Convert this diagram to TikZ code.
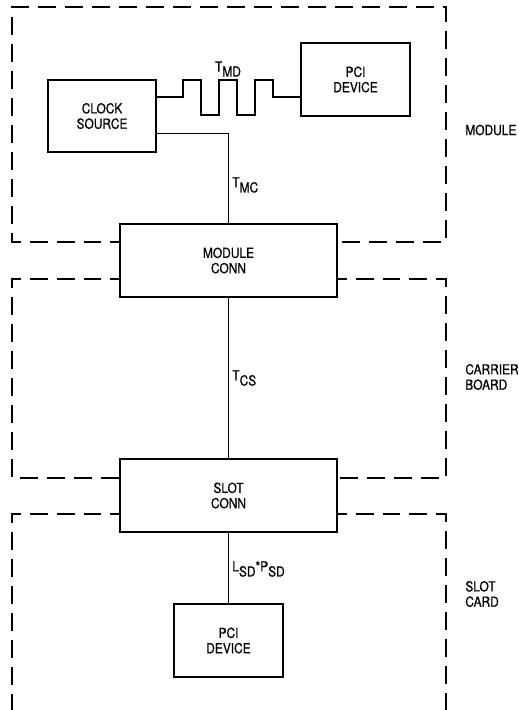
\documentclass[tikz,border=0pt]{standalone}
\usepackage{fontspec}
\setmainfont{TeX Gyre Heros}[FakeStretch=0.86, FakeBold=0.8]
\newcommand{\lowsub}[1]{\raisebox{-0.7ex}{#1}}
\tikzset{
  blk/.style={draw, line width=0.6pt, inner sep=0pt, align=center},
  frame/.style={line width=0.6pt, dash pattern=on 0.36cm off 0.18cm, dash phase=0.18cm},
  wire/.style={line width=0.6pt},
  lbl/.style={inner sep=0pt, align=left}
}
\begin{document}
\begin{tikzpicture}[x=0.02cm, y=-0.02cm, font=\fontsize{7.9}{8.7}\selectfont]
\useasboundingbox (0,0) rectangle (519,710);
\node[blk, minimum width=2.16cm, minimum height=1.44cm] (clock) at (102,116) {CLOCK\\SOURCE};
\node[blk, minimum width=2.18cm, minimum height=1.46cm] (pcimod) at (355.5,79.5) {PCI\\DEVICE};
\node[blk, minimum width=4.34cm, minimum height=1.46cm] (mconn) at (228.5,260.5) {MODULE\\CONN};
\node[blk, minimum width=4.34cm, minimum height=1.46cm] (sconn) at (228.5,495.5) {SLOT\\CONN};
\node[blk, minimum width=2.18cm, minimum height=1.46cm] (pcicard) at (228.5,640.5) {PCI\\DEVICE};
\draw[wire] ([yshift=0.38cm]clock.east) -| (183,80) -| (201,115) -| (219,80) -| (237,115) -| (255,80) -| (273,97) -- (pcimod.west |- 273,97);
\draw[wire] ([yshift=0.38cm]clock.south east) -| (mconn.north);
\draw[wire] (mconn.south) -- (sconn.north);
\draw[wire] (sconn.south) -- (pcicard.north);
\draw[frame] (mconn.west |- 0,242) -| (12,7) -| (446,242) -- (mconn.east |- 0,242);
\draw[frame] (mconn.west |- 0,279) -| (12,478) -- (sconn.west |- 0,478);
\draw[frame] (mconn.east |- 0,279) -| (446,478) -- (sconn.east |- 0,478);
\draw[frame] (sconn.west |- 0,514) -| (12,710);
\draw[frame] (sconn.east |- 0,514) -| (446,710);
\node[lbl] (tmd) at (228,69) {T\lowsub{MD}};
\node[lbl, anchor=west] (tmc) at (232,185) {T\lowsub{MC}};
\node[lbl, anchor=west] (tcs) at (232,378) {T\lowsub{CS}};
\node[lbl, anchor=west] (lsd) at (232,569) {L\lowsub{SD}*P\lowsub{SD}};
\node[lbl, anchor=west] (lmod) at (465,130) {MODULE};
\node[lbl, anchor=west] (lcar) at (465,377) {CARRIER\\BOARD};
\node[lbl, anchor=west] (lslot) at (465,594) {SLOT\\CARD};
\end{tikzpicture}
\end{document}
